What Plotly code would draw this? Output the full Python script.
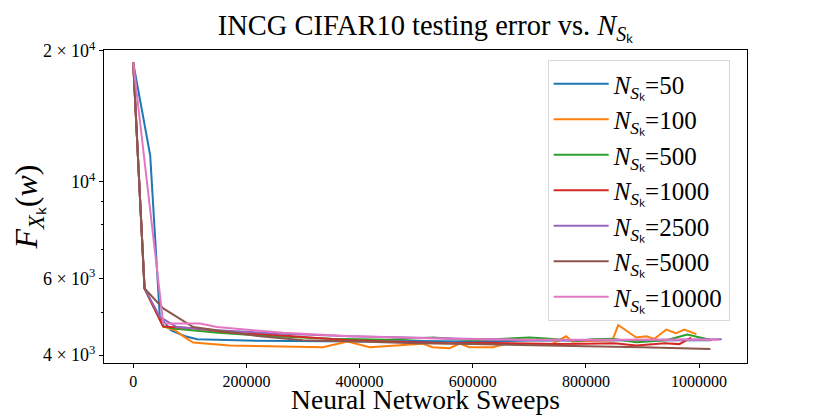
import plotly.graph_objects as go

# ---------------- data ----------------
names = ["50", "100", "500", "1000", "2500", "5000", "10000"]
colors = ["#1f77b4", "#ff7f0e", "#2ca02c", "#d62728", "#9467bd", "#8c564b", "#e377c2"]

x_50 = [0, 30000, 47000, 67000, 92000, 113000, 200000, 300000, 400000, 500000,
        600000, 700000, 800000, 900000, 1020000]
y_50 = [18800, 11500, 4900, 4560, 4420, 4350, 4320, 4310, 4300, 4310,
        4300, 4320, 4320, 4330, 4330]

x_100 = [0, 20000, 53000, 74000, 92000, 106000, 170000, 206000, 335000, 379000,
         418000, 511000, 529000, 559000, 577000, 594000, 635000, 660000, 700000,
         740000, 765000, 776000, 847000, 857000, 889000, 907000, 921000, 942000,
         959000, 974000, 995000]
y_100 = [18800, 5690, 4655, 4560, 4390, 4277, 4210, 4200, 4170, 4300,
         4170, 4250, 4170, 4150, 4250, 4170, 4170, 4250, 4250,
         4240, 4420, 4300, 4330, 4690, 4390, 4420, 4360, 4580,
         4490, 4580, 4470]

x_500 = [0, 20000, 53000, 75000, 150000, 250000, 350000, 450000, 530000, 600000,
         700000, 730000, 788000, 811000, 847000, 889000, 942000, 979000, 1023000]
y_500 = [18800, 5690, 4655, 4600, 4500, 4420, 4360, 4340, 4390, 4330,
         4390, 4370, 4310, 4350, 4360, 4280, 4330, 4460, 4330]

x_1000 = [0, 20000, 53000, 106000, 175000, 235000, 300000, 380000, 450000, 500000,
          560000, 620000, 680000, 750000, 800000, 850000, 889000, 940000, 965000, 986000]
y_1000 = [18800, 5690, 4655, 4610, 4500, 4470, 4400, 4330, 4300, 4280,
          4260, 4270, 4250, 4240, 4250, 4260, 4210, 4260, 4240, 4390]

x_2500 = [0, 20000, 47000, 77000, 148000, 265000, 383000, 450000, 500000, 600000,
          700000, 800000, 900000, 1000000, 1040000]
y_2500 = [18800, 5690, 4900, 4640, 4560, 4480, 4420, 4400, 4380, 4350,
          4330, 4330, 4340, 4350, 4350]

x_5000 = [0, 20000, 53000, 106000, 224000, 265000, 300000, 400000, 500000, 600000,
          700000, 800000, 900000, 1020000]
y_5000 = [18800, 5690, 5120, 4640, 4420, 4370, 4330, 4300, 4260, 4240,
          4210, 4190, 4170, 4130]

x_10000 = [0, 53000, 118000, 148000, 265000, 383000, 500000, 600000, 700000,
           800000, 900000, 1035000]
y_10000 = [18800, 4730, 4730, 4640, 4500, 4420, 4380, 4350, 4340,
           4340, 4340, 4340]

xs = [x_50, x_100, x_500, x_1000, x_2500, x_5000, x_10000]
ys = [y_50, y_100, y_500, y_1000, y_2500, y_5000, y_10000]

y_tickvals = [4000, 6000, 10000, 20000]
y_ticktext = ["4 × 10<sup>3</sup>", "6 × 10<sup>3</sup>", "10<sup>4</sup>", "2 × 10<sup>4</sup>"]
y_minor = [5000, 7000, 8000, 9000]
x_tickvals = [0, 200000, 400000, 600000, 800000, 1000000]
x_ticktext = ["0", "200000", "400000", "600000", "800000", "1000000"]

FONT = "Liberation Serif"
NSK = "<i>N</i><sub><i>S</i>ₖ</sub>"

# the page body adds an 8px offset, so the figure is sized 822x407
W, H = 822, 407

fig = go.Figure()
for n, c, x, y in zip(names, colors, xs, ys):
    fig.add_trace(go.Scatter(x=x, y=y, mode="lines", name=NSK + "=" + n,
                             line=dict(color=c, width=2)))

fig.update_layout(
    width=W, height=H,
    margin=dict(l=96, r=83, t=42, b=52),
    plot_bgcolor="white", paper_bgcolor="white",
    font=dict(family=FONT, color="black"),
    title=dict(text="INCG CIFAR10 testing error vs. " + NSK,
               x=0.5, xref="paper", xanchor="center",
               y=1 - 17 / H, yref="container", yanchor="middle",
               font=dict(size=28.5, family=FONT)),
    showlegend=True,
    legend=dict(x=0.69, y=0.968, xanchor="left", yanchor="top",
                bgcolor="white", bordercolor="#d9d9d9", borderwidth=1,
                font=dict(size=25, family=FONT), tracegroupgap=0,
                itemwidth=55),
)
fig.update_xaxes(
    range=[-51650, 1084650], tickvals=x_tickvals, ticktext=x_ticktext,
    showline=True, linecolor="black", linewidth=1, mirror=True,
    ticks="outside", ticklen=4, tickcolor="black",
    showgrid=False, zeroline=False, automargin=False,
    tickfont=dict(size=16, family=FONT),
    title=dict(text="Neural Network Sweeps", font=dict(size=27.5, family=FONT), standoff=5),
)
fig.update_yaxes(
    type="log", range=[3.584, 4.303],
    tickvals=y_tickvals, ticktext=y_ticktext,
    showline=True, linecolor="black", linewidth=1, mirror=True,
    ticks="outside", ticklen=4, tickcolor="black",
    showgrid=False, zeroline=False, automargin=False,
    tickfont=dict(size=18, family=FONT),
    minor=dict(tickvals=y_minor, ticks="outside", ticklen=2, tickcolor="black", showgrid=False),
    title=dict(text="<i>F</i><sub><i>X</i>ₖ</sub>(<i>w</i>)", font=dict(size=32, family=FONT), standoff=8),
)

fig.write_html("out.html")
